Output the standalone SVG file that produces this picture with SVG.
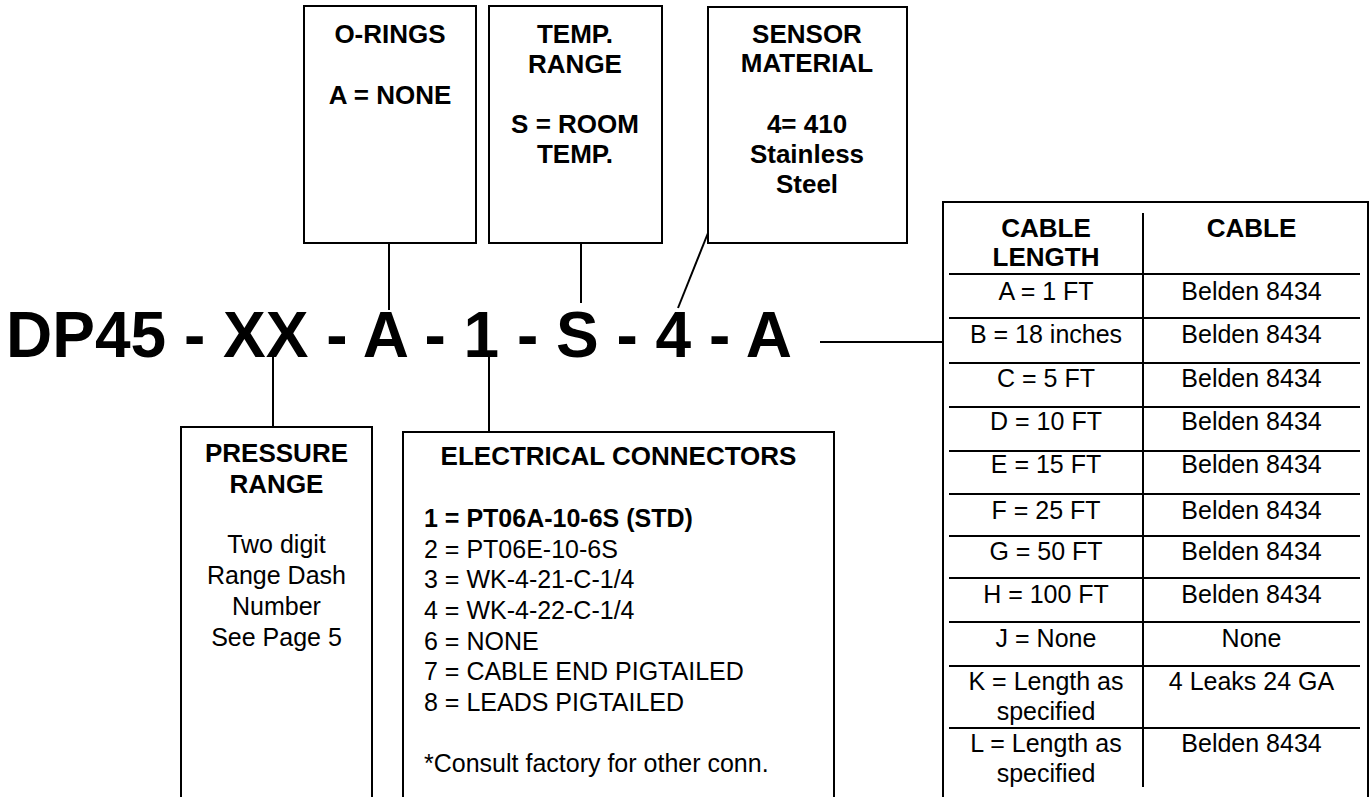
<svg xmlns="http://www.w3.org/2000/svg" width="1371" height="797" viewBox="0 0 1371 797">
<style>
.box{fill:#fff;stroke:#000;stroke-width:2}
.ln{stroke:#000;stroke-width:2;fill:none}
.b{font-family:"Liberation Sans",Arial,sans-serif;font-weight:bold;font-size:26px;fill:#000;text-anchor:middle}
.r{font-family:"Liberation Sans",Arial,sans-serif;font-size:25px;fill:#000;text-anchor:middle}
.rl{font-family:"Liberation Sans",Arial,sans-serif;font-size:25px;fill:#000}
.bl{font-family:"Liberation Sans",Arial,sans-serif;font-weight:bold;font-size:25px;fill:#000}
.big{font-family:"Liberation Sans",Arial,sans-serif;font-weight:bold;font-size:64px;fill:#000}
</style>
<rect width="1371" height="797" fill="#fff"/>
<g id="code">
<text class="big" x="6" y="357" xml:space="preserve">DP45 - XX - A - 1 - S - 4 - A</text>
</g>
<g id="connectors">
<line class="ln" x1="389" y1="243" x2="389" y2="310"/>
<line class="ln" x1="581" y1="243" x2="581" y2="303"/>
<line class="ln" x1="708" y1="233" x2="678" y2="308"/>
<line class="ln" x1="273" y1="357" x2="273" y2="427"/>
<line class="ln" x1="489" y1="357" x2="489" y2="432"/>
<line class="ln" x1="820" y1="342" x2="943" y2="342"/>
</g>
<g id="o-rings">
<rect class="box" x="304" y="6" width="172" height="237"/>
<text class="b" x="390" y="43">O-RINGS</text>
<text class="b" x="390" y="104">A = NONE</text>
</g>
<g id="temp-range">
<rect class="box" x="489" y="6" width="173" height="237"/>
<text class="b" x="575" y="43">TEMP.</text>
<text class="b" x="575" y="73">RANGE</text>
<text class="b" x="575" y="133">S = ROOM</text>
<text class="b" x="575" y="163">TEMP.</text>
</g>
<g id="sensor-material">
<rect class="box" x="708" y="7" width="199" height="236"/>
<text class="b" x="807" y="43">SENSOR</text>
<text class="b" x="807" y="72">MATERIAL</text>
<text class="b" x="807" y="133">4= 410</text>
<text class="b" x="807" y="163">Stainless</text>
<text class="b" x="807" y="193">Steel</text>
</g>
<g id="pressure-range">
<path class="ln" d="M181,800 V427 H372 V800"/>
<text class="b" x="276.5" y="462">PRESSURE</text>
<text class="b" x="276.5" y="493">RANGE</text>
<text class="r" x="276.5" y="553">Two digit</text>
<text class="r" x="276.5" y="584">Range Dash</text>
<text class="r" x="276.5" y="615">Number</text>
<text class="r" x="276.5" y="646">See Page 5</text>
</g>
<g id="electrical-connectors">
<path class="ln" d="M403,800 V432 H834 V800"/>
<text class="b" x="618.5" y="465">ELECTRICAL CONNECTORS</text>
<text class="bl" x="424" y="527">1 = PT06A-10-6S (STD)</text>
<text class="rl" x="424" y="558">2 = PT06E-10-6S</text>
<text class="rl" x="424" y="588">3 = WK-4-21-C-1/4</text>
<text class="rl" x="424" y="619">4 = WK-4-22-C-1/4</text>
<text class="rl" x="424" y="650">6 = NONE</text>
<text class="rl" x="424" y="680">7 = CABLE END PIGTAILED</text>
<text class="rl" x="424" y="711">8 = LEADS PIGTAILED</text>
<text class="rl" x="424" y="772">*Consult factory for other conn.</text>
</g>
<g id="cable-table">
<path class="ln" d="M943,800 V202 H1368 V800"/>
<line class="ln" x1="1143" y1="213" x2="1143" y2="787"/>
<g class="ln">
<line x1="949" y1="274" x2="1360" y2="274"/>
<line x1="949" y1="318" x2="1360" y2="318"/>
<line x1="949" y1="363" x2="1360" y2="363"/>
<line x1="949" y1="407" x2="1360" y2="407"/>
<line x1="949" y1="451" x2="1360" y2="451"/>
<line x1="949" y1="494" x2="1360" y2="494"/>
<line x1="949" y1="536" x2="1360" y2="536"/>
<line x1="949" y1="578" x2="1360" y2="578"/>
<line x1="949" y1="622" x2="1360" y2="622"/>
<line x1="949" y1="666" x2="1360" y2="666"/>
<line x1="949" y1="728" x2="1360" y2="728"/>
</g>
<text class="b" x="1046" y="237">CABLE</text>
<text class="b" x="1046" y="266">LENGTH</text>
<text class="b" x="1251.5" y="237">CABLE</text>
<text class="r" x="1046" y="300">A = 1 FT</text>
<text class="r" x="1251.5" y="300">Belden 8434</text>
<text class="r" x="1046" y="343">B = 18 inches</text>
<text class="r" x="1251.5" y="343">Belden 8434</text>
<text class="r" x="1046" y="387">C = 5 FT</text>
<text class="r" x="1251.5" y="387">Belden 8434</text>
<text class="r" x="1046" y="430">D = 10 FT</text>
<text class="r" x="1251.5" y="430">Belden 8434</text>
<text class="r" x="1046" y="473">E = 15 FT</text>
<text class="r" x="1251.5" y="473">Belden 8434</text>
<text class="r" x="1046" y="519">F = 25 FT</text>
<text class="r" x="1251.5" y="519">Belden 8434</text>
<text class="r" x="1046" y="560">G = 50 FT</text>
<text class="r" x="1251.5" y="560">Belden 8434</text>
<text class="r" x="1046" y="603">H = 100 FT</text>
<text class="r" x="1251.5" y="603">Belden 8434</text>
<text class="r" x="1046" y="647">J = None</text>
<text class="r" x="1251.5" y="647">None</text>
<text class="r" x="1046" y="690">K = Length as</text>
<text class="r" x="1046" y="720">specified</text>
<text class="r" x="1251.5" y="690">4 Leaks 24 GA</text>
<text class="r" x="1046" y="752">L = Length as</text>
<text class="r" x="1046" y="782">specified</text>
<text class="r" x="1251.5" y="752">Belden 8434</text>
</g>
</svg>
